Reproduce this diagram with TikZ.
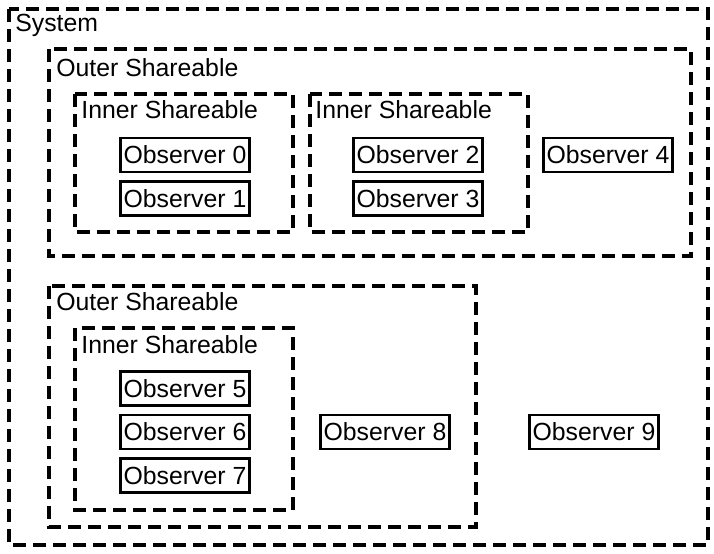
\documentclass[tikz,border=0pt]{standalone}
\usepackage{fontspec}
\setmainfont{Liberation Sans}
\begin{document}
\begin{tikzpicture}[x=0.5pt, y=-0.5pt,
    every node/.style={font=\fontsize{12.4}{14}\selectfont},
    obs/.style={draw, line width=1.2pt, minimum width=64.5pt, minimum height=17pt, inner sep=0pt},
    zone/.style={line width=1.9pt, dash pattern=on 6.5pt off 3.5pt},
    zonelabel/.style={anchor=base west, inner sep=0pt}]
    \useasboundingbox[fill=white] (0,0) rectangle (714,553);
    % system
    \draw[zone] (9,9) rectangle (708,545);
    \node[zonelabel] (sys) at (15,31) {System};
    % upper outer shareable
    \draw[zone] (49,49) rectangle (691,256);
    \node[zonelabel] (os1) at (56,76) {Outer Shareable};
    \draw[zone] (75,94) rectangle (293,232);
    \node[zonelabel] (is1) at (81,118) {Inner Shareable};
    \draw[zone] (310,94) rectangle (528,232);
    \node[zonelabel] (is2) at (315,118) {Inner Shareable};
    \node[obs] (o0) at (185,155) {Observer 0};
    \node[obs] (o1) at (185,198.5) {Observer 1};
    \node[obs] (o2) at (418,155) {Observer 2};
    \node[obs] (o3) at (418,198.5) {Observer 3};
    \node[obs] (o4) at (608,155) {Observer 4};
    % lower outer shareable
    \draw[zone] (49,286) rectangle (476,527);
    \node[zonelabel] (os2) at (56,310) {Outer Shareable};
    \draw[zone] (75,328) rectangle (293,510);
    \node[zonelabel] (is3) at (81,353) {Inner Shareable};
    \node[obs] (o5) at (185,388.5) {Observer 5};
    \node[obs] (o6) at (185,432) {Observer 6};
    \node[obs] (o7) at (185,475.5) {Observer 7};
    \node[obs] (o8) at (385,432) {Observer 8};
    \node[obs] (o9) at (594,432) {Observer 9};
\end{tikzpicture}
\end{document}
